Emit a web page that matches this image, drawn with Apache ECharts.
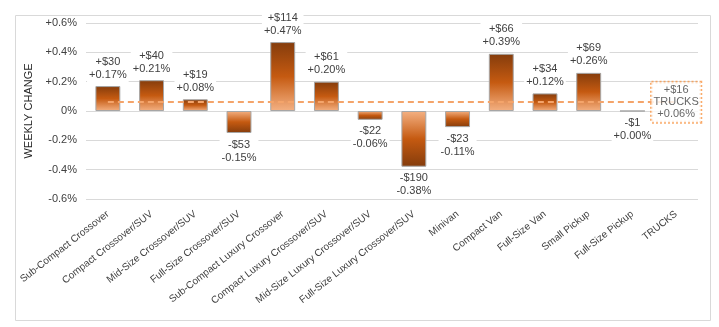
<!DOCTYPE html>
<html>
<head>
<meta charset="utf-8">
<script src="https://cdn.jsdelivr.net/npm/echarts@6/dist/echarts.min.js"></script>
<style>
html,body{margin:0;padding:0;background:#fff;}
#main{width:719px;height:327px;}
</style>
</head>
<body>
<div id="main"></div>
<script>
var categories = ['Sub-Compact Crossover','Compact Crossover/SUV','Mid-Size Crossover/SUV','Full-Size Crossover/SUV','Sub-Compact Luxury Crossover','Compact Luxury Crossover/SUV','Mid-Size Luxury Crossover/SUV','Full-Size Luxury Crossover/SUV','Minivan','Compact Van','Full-Size Van','Small Pickup','Full-Size Pickup','TRUCKS'];
var pctChange = [0.17, 0.21, 0.08, -0.15, 0.47, 0.20, -0.06, -0.38, -0.11, 0.39, 0.12, 0.26, 0.00, 0.06];
var dollarChange = [30, 40, 19, -53, 114, 61, -22, -190, -23, 66, 34, 69, -1, 16];
var totalIndex = 13;
var yTicks = [-0.6, -0.4, -0.2, 0, 0.2, 0.4, 0.6];

var FONT = '"Liberation Sans", Arial, sans-serif';
function fmtDollar(v){ return (v < 0 ? '-$' : '+$') + Math.abs(v); }
function fmtPct(v){ return (v < 0 ? '-' : '+') + Math.abs(v).toFixed(2) + '%'; }

var posGrad = {type:'linear',x:0,y:0,x2:0,y2:1,colorStops:[
  {offset:0,color:'#843c0c'},{offset:0.5,color:'#c55a11'},{offset:1,color:'#f4b183'}]};
var negGrad = {type:'linear',x:0,y:0,x2:0,y2:1,colorStops:[
  {offset:0,color:'#f4b183'},{offset:0.5,color:'#c55a11'},{offset:1,color:'#843c0c'}]};

var barData = categories.map(function(c, i){
  if (i === totalIndex) return '-';
  var neg = dollarChange[i] < 0 || pctChange[i] < 0;
  return {
    value: pctChange[i],
    itemStyle: {color: neg ? negGrad : posGrad},
    label: {position: neg ? 'bottom' : 'top'}
  };
});

var chart = echarts.init(document.getElementById('main'));
chart.setOption({
  animation: false,
  textStyle: {fontFamily: FONT},
  graphic: [{
    type: 'rect', left: 13, top: 13, z: -10,
    shape: {width: 695, height: 305},
    style: {fill: 'none', stroke: '#d9d9d9', lineWidth: 1}
  }],
  grid: {left: 86, right: 21, top: 23, bottom: 128, containLabel: false},
  xAxis: {
    type: 'category',
    data: categories,
    axisLine: {show: false, onZero: false},
    axisTick: {show: false},
    axisLabel: {rotate: 38, fontSize: 10, color: '#404040', margin: 14, interval: 0, fontFamily: FONT}
  },
  yAxis: {
    type: 'value',
    min: -0.6, max: 0.6, interval: 0.2,
    name: 'WEEKLY CHANGE',
    nameLocation: 'middle',
    nameGap: 51,
    nameTextStyle: {fontSize: 11, color: '#262626', fontFamily: FONT},
    axisLine: {show: false},
    axisTick: {show: false},
    splitLine: {lineStyle: {color: '#d9d9d9', width: 1}},
    axisLabel: {
      fontSize: 11, color: '#404040', margin: 9, fontFamily: FONT,
      formatter: function(v){
        var t = yTicks.reduce(function(a,b){ return Math.abs(b-v) < Math.abs(a-v) ? b : a; });
        if (Math.abs(t) < 1e-9) return '0%';
        return (t > 0 ? '+' : '-') + Math.abs(t).toFixed(1) + '%';
      }
    }
  },
  series: [{
    type: 'bar',
    data: barData,
    barWidth: '57%',
    itemStyle: {borderColor: '#a6a6a6', borderWidth: 1},
    label: {
      show: true,
      distance: 4,
      fontSize: 11,
      lineHeight: 13,
      color: '#404040',
      backgroundColor: '#fff',
      padding: [1, 2],
      fontFamily: FONT,
      formatter: function(p){
        return fmtDollar(dollarChange[p.dataIndex]) + '\n' + fmtPct(pctChange[p.dataIndex]);
      }
    },
    markLine: {
      silent: true,
      symbol: ['none','none'],
      z: 4,
      lineStyle: {color: '#f4a46a', type: [6, 4], width: 2},
      label: {show: false},
      data: [[{coord: [0, pctChange[totalIndex]]}, {coord: [totalIndex, pctChange[totalIndex]]}]]
    }
  }, {
    type: 'scatter',
    z: 10,
    symbolSize: 0,
    data: [[totalIndex, pctChange[totalIndex]]],
    label: {
      show: true,
      position: 'inside',
      fontSize: 11,
      lineHeight: 12,
      color: '#404040',
      backgroundColor: '#fff',
      borderColor: '#f79646',
      borderWidth: 1.5,
      borderType: [2, 2],
      padding: [2, 2],
      fontFamily: FONT,
      formatter: function(){
        return fmtDollar(dollarChange[totalIndex]) + '\nTRUCKS\n' + fmtPct(pctChange[totalIndex]);
      }
    }
  }]
});
</script>
</body>
</html>
